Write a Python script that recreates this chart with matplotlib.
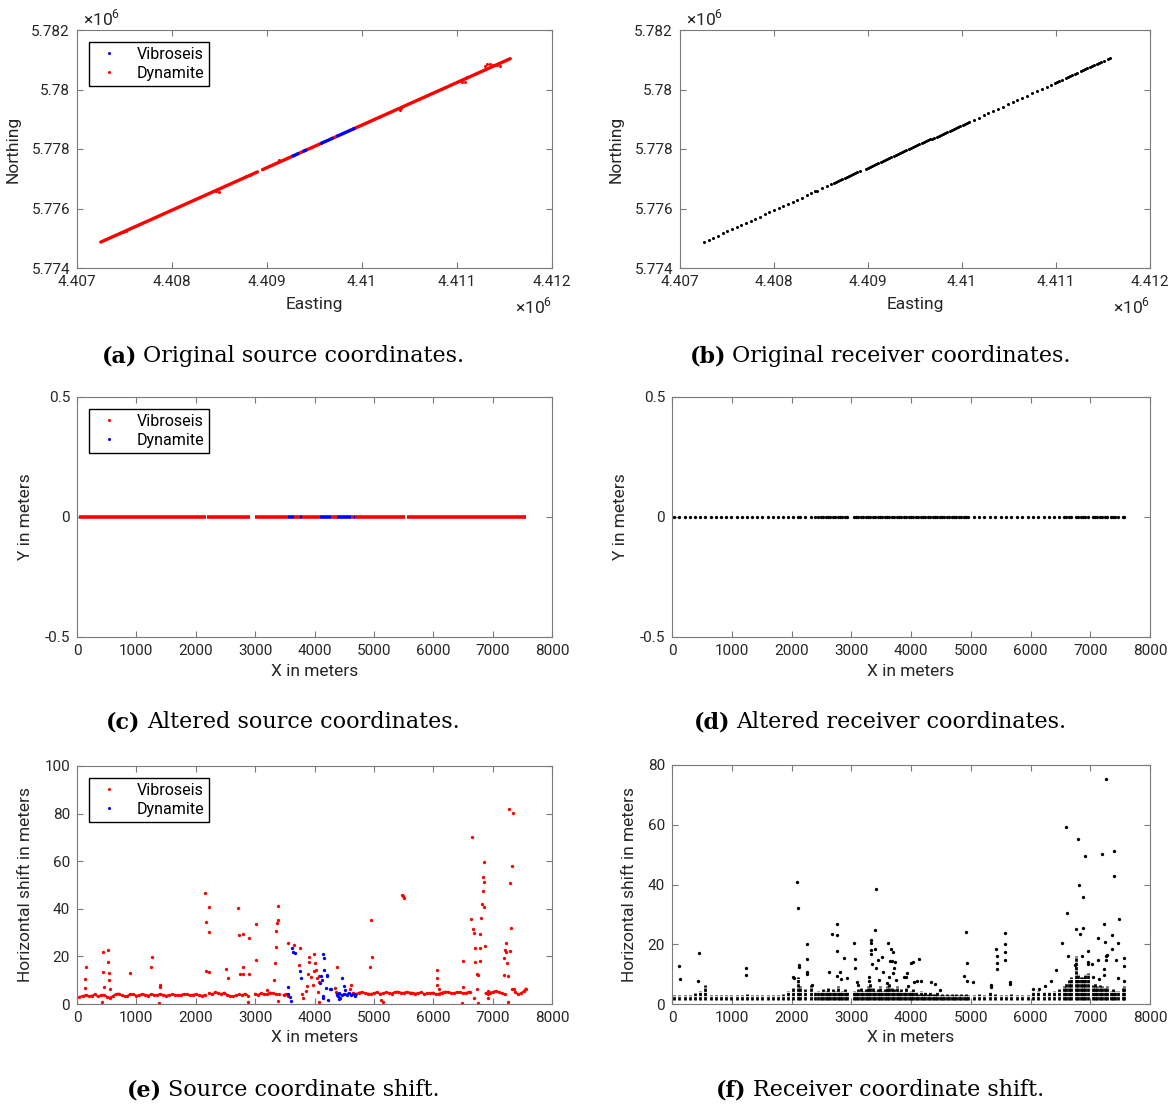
import matplotlib
matplotlib.use("Agg")
import matplotlib.pyplot as plt
from matplotlib.lines import Line2D
from matplotlib.ticker import FuncFormatter, MultipleLocator
import numpy as np

plt.rcParams['font.family'] = ['Roboto', 'DejaVu Sans']
plt.rcParams['mathtext.fontset'] = 'custom'
plt.rcParams['mathtext.rm'] = 'Roboto'

# ---------------- data ----------------
# line origin / direction used to go from profile x to easting/northing
E0, N0 = 4407232.0, 5774845.0
CE, CN = 0.5730, 0.8196

# altered source coordinates: runs of shots along y = 0 (x in m)
vib_runs = [(31, 2180), (2192, 2910), (3003, 3560), (3653, 3759), (3796, 4087),
            (4285, 4378), (4613, 4663), (4687, 5523), (5554, 7554)]
dyn_runs = [(3560, 3653), (3759, 3796), (4087, 4285), (4378, 4613), (4663, 4687)]

# original source points lying off the straight line (easting, northing)
src_off_e = [4407480, 4407520, 4408460, 4408480, 4408490, 4408780, 4408820,
             4409130, 4410400, 4410410, 4411050, 4411080, 4411100, 4411110,
             4411300, 4411320, 4411350, 4411380, 4411400, 4411420, 4411450]
src_off_n = [5775200, 5775240, 5776580, 5776650, 5776560, 5777080, 5777130,
             5777620, 5779310, 5779380, 5780260, 5780250, 5780380, 5780420,
             5780780, 5780870, 5780860, 5780840, 5780820, 5780830, 5780800]

# receiver stations along the profile (m)
rx = [40, 125, 210, 300, 385, 470, 560, 645, 730, 820, 905, 990, 1080, 1165,
      1250, 1340, 1425, 1510, 1600, 1685, 1770, 1860, 1945, 2030, 2110, 2140,
      2230, 2320, 2400,
      2450, 2490, 2530, 2570, 2610, 2650, 2690, 2730, 2770, 2810, 2850, 2890, 2930,
      3040, 3080, 3120, 3160, 3200, 3240, 3280, 3320, 3360, 3400, 3440, 3480,
      3520, 3560, 3600, 3640, 3680, 3720, 3760, 3800, 3840, 3880, 3920, 3960,
      4000, 4040, 4080, 4120, 4160, 4200, 4240, 4280, 4320, 4360, 4400, 4440,
      4480, 4520, 4560, 4600, 4640, 4680, 4720, 4760, 4800, 4840, 4880, 4920, 4960,
      5050, 5140, 5230, 5320, 5410, 5500, 5590, 5680, 5770, 5860, 5950, 6040,
      6130, 6220, 6310, 6400, 6480, 6560, 6600, 6640, 6680, 6760, 6800, 6840,
      6880, 6920, 6960, 7040, 7080, 7120, 7160, 7200, 7240, 7280, 7340, 7380,
      7420, 7460, 7540, 7570]

# receiver shift: top of the dense column of shifts at each station
rx_top = [3.0, 3.0, 3.0, 3.0, 3.8, 4.2, 6.3, 3.0, 3.0, 3.0, 3.0, 3.0, 3.0, 3.0,
          3.2, 3.0, 3.0, 3.0, 3.0, 3.0, 3.0, 3.2, 4.5, 5.5, 9.0, 6.0,
          5.0, 6.5, 4.0,
          4.5, 4.0, 5.0, 4.5, 5.5, 4.0, 5.0, 4.5, 6.0, 4.0, 4.5, 5.0, 4.0,
          4.5, 4.0, 5.0, 5.5, 4.5, 5.0, 6.0, 7.0, 5.5, 4.5, 5.0, 6.0,
          4.5, 5.0, 6.0, 7.0, 5.5, 5.0, 6.0, 4.5, 5.0, 4.0, 5.5, 4.0,
          4.5, 5.0, 4.0, 3.5, 4.5, 3.5, 4.0, 3.5, 4.0, 3.5, 3.5, 4.0,
          3.0, 3.5, 3.0, 3.5, 3.0, 3.5, 3.0, 3.2, 3.0, 3.5, 3.0, 3.5, 3.0,
          3.0, 3.5, 3.0, 4.0, 3.5, 3.0, 3.0, 3.5, 3.0, 3.0, 3.0, 4.0,
          4.5, 4.0, 4.0, 4.5, 5.0, 6.0, 7.0, 8.0, 9.0, 16.0, 10.0, 9.0,
          9.0, 10.0, 10.4, 6.5, 7.0, 6.0, 6.5, 6.0, 5.5, 6.0, 4.5, 5.0,
          4.5, 4.5, 5.5, 6.0]
rx_low = 1.2

# receiver shift outliers (x m, shift m)
rs_x = [123, 142, 449, 431, 1231, 1237, 2098, 2111, 2123, 2129, 2031, 2037, 2258,
        2252, 2252, 2252, 2351, 2634, 2677, 2757, 2757, 2757, 2769, 2806, 2831,
        2874, 2929, 3046, 3058, 3058, 3089, 3108, 3323, 3329, 3323, 3329, 3348,
        3292, 3292, 3403, 3422, 3403, 3415, 3446, 3458, 3508, 3532, 3612, 3643,
        3662, 3674, 3705, 3729, 3723, 3692, 3631, 3742, 3600, 3877, 3914, 3938,
        3951, 3994, 4031, 4043, 4098, 4135, 4160, 4338, 4406, 4492, 4880, 4923,
        4935, 4942, 5046, 5428, 5434, 5434, 5434, 5335, 5335, 5569, 5569, 5569,
        5569, 5649, 5649, 6049, 6142, 6240, 6338, 6431, 6535, 6603, 6591, 6634,
        6745, 6769, 6794, 6812, 6831, 6868, 6880, 6880, 6905, 6960, 6966, 6966,
        7028, 7052, 7126, 7138, 7145, 7200, 7225, 7249, 7237, 7268, 7262, 7280,
        7268, 7231, 7360, 7372, 7403, 7403, 7428, 7458, 7477, 7458, 7569, 7569,
        7569]
rs_y = [12.8, 8.5, 17.2, 7.8, 11.9, 9.6, 40.8, 32.2, 13.2, 12.4, 9.2, 8.7, 20.1,
        15.2, 10.8, 10.0, 6.4, 10.8, 23.5, 23.0, 26.7, 17.6, 9.5, 10.8, 8.5,
        15.3, 8.6, 20.3, 14.9, 12.0, 7.2, 6.4, 21.4, 20.5, 18.1, 16.8, 13.5,
        8.9, 7.6, 24.8, 38.6, 18.4, 11.9, 14.6, 8.0, 15.7, 10.7, 20.5, 14.5,
        18.4, 14.4, 17.3, 14.1, 12.1, 10.4, 9.2, 8.1, 7.0, 9.2, 8.9, 10.4,
        5.9, 13.7, 14.0, 7.4, 7.8, 15.2, 7.7, 7.2, 6.8, 4.6, 9.4, 24.2,
        13.8, 7.6, 7.4, 18.4, 16.0, 13.8, 11.7, 6.5, 5.7, 23.6, 20.2, 17.4,
        14.7, 7.4, 6.8, 5.0, 5.0, 5.9, 7.8, 11.5, 20.3, 30.4, 59.1, 16.0,
        13.1, 25.1, 55.2, 39.7, 23.4, 16.0, 35.8, 25.6, 49.7, 17.6, 14.1, 13.5,
        13.5, 9.2, 22.1, 14.8, 8.5, 50.1, 26.7, 20.9, 11.7, 14.7, 16.2, 16.4,
        75.2, 9.8, 18.5, 23.0, 51.3, 43.0, 14.7, 20.3, 28.4, 8.7, 15.4, 12.7,
        7.8]

# source shift: baseline runs (x m, shift m)
vib_base = [
    ([40, 100, 150, 200, 250, 300, 350, 400, 450, 500, 550, 600, 650, 700, 750,
      800, 850, 900, 950, 1000, 1050, 1100, 1150, 1200, 1250, 1300, 1350, 1400,
      1450, 1500, 1550, 1600, 1650, 1700, 1750, 1800, 1850, 1900, 1950, 2000,
      2050, 2100, 2150],
     [3.0, 3.4, 3.8, 3.3, 3.5, 4.0, 3.2, 3.6, 3.9, 3.1, 2.6, 3.3, 4.1, 4.4, 3.6,
      3.2, 3.4, 4.2, 4.0, 3.5, 3.7, 4.2, 3.9, 3.5, 4.1, 3.8, 3.6, 4.3, 3.8, 3.5,
      3.7, 4.0, 3.9, 3.6, 3.8, 4.2, 4.0, 3.6, 3.9, 4.1, 3.7, 3.4, 3.8]),
    ([2230, 2280, 2330, 2380, 2430, 2480, 2530, 2580, 2630, 2680, 2730, 2780,
      2830, 2880],
     [4.5, 4.0, 5.0, 4.6, 4.2, 4.8, 3.8, 3.4, 3.2, 3.6, 4.0, 3.7, 4.3, 3.5]),
    ([3000, 3050, 3100, 3150, 3200, 3250, 3300, 3350, 3400],
     [4.3, 3.8, 4.5, 4.0, 4.2, 4.8, 4.6, 4.1, 4.0]),
    ([3480, 3520, 3560], [3.8, 4.2, 3.5]),
    ([4650, 4700, 4750, 4800, 4850, 4900, 4950, 5000, 5050, 5100, 5150, 5200,
      5250, 5300, 5350, 5400, 5450, 5500, 5550, 5600, 5650, 5700, 5750, 5800,
      5850, 5900, 5950, 6000, 6050, 6100, 6150, 6200, 6250, 6300, 6350, 6400,
      6450, 6500, 6550, 6600, 6620],
     [4.5, 4.2, 4.8, 5.0, 4.6, 4.4, 4.2, 4.6, 4.9, 4.3, 4.5, 4.9, 4.7, 4.4, 5.0,
      5.2, 4.8, 4.6, 5.1, 4.8, 4.7, 4.4, 4.6, 4.9, 4.2, 4.5, 4.5, 4.8, 4.0, 4.4,
      4.8, 5.2, 5.0, 4.7, 4.6, 5.0, 4.9, 4.6, 4.7, 5.1, 5.0]),
    ([6880, 6920, 6950, 7000, 7050, 7100, 7150, 7200],
     [4.5, 4.0, 4.8, 5.0, 5.5, 5.0, 4.5, 4.0]),
    ([7380, 7430, 7480, 7530, 7560], [5.0, 4.0, 4.5, 5.5, 6.5]),
]
dyn_base = [([4380, 4420, 4460, 4500, 4540, 4580, 4620, 4660, 4690],
             [3.8, 4.5, 3.6, 4.2, 3.9, 4.6, 3.8, 4.1, 3.5])]

vib_x = [142, 142, 155, 415, 433, 446, 452, 514, 526, 532, 539, 557, 898, 1257,
         1251, 1393, 1406, 1381, 2155, 2180, 2223, 2217, 2173, 2229, 2514, 2539,
         2718, 2731, 2793, 2737, 2793, 2799, 2904, 2892, 2879, 3009, 3022, 3207,
         3319, 3337, 3350, 3356, 3375, 3381, 3393, 3393, 3560, 3653, 3759, 3734,
         3796, 3808, 3858, 3876, 3907, 3907, 3889, 3938, 3969, 3988, 4006, 3994,
         4025, 4043, 4056, 4068, 4080, 4074, 4372, 4341, 4359, 4619, 4644, 4600,
         4954, 4972, 4941, 5127, 5152, 5480, 5492, 5511, 6068, 6056, 6068, 6099,
         6502, 6508, 6483, 6656, 6638, 6669, 6687, 6700, 6706, 6731, 6755, 6737,
         6687, 6755, 6793, 6805, 6817, 6836, 6842, 6848, 6848, 6861, 6867, 6780,
         6780, 6923, 6917, 7195, 7207, 7226, 7226, 7189, 7257, 7238, 7257, 7282,
         7350, 7331, 7288, 7313, 7300, 7325, 7356]
vib_y = [6.8, 10.7, 15.5, 0.8, 21.9, 13.6, 7.1, 22.8, 17.8, 13.2, 9.9, 6.3, 13.0, 19.9,
         15.5, 7.1, 8.1, 0.6, 46.5, 34.5, 40.7, 30.1, 13.8, 13.6, 14.8, 11.1,
         40.3, 28.8, 29.5, 12.8, 12.4, 15.7, 27.7, 12.8, 0.7, 33.6, 18.5, 6.0,
         10.0, 17.1, 23.8, 30.5, 34.0, 35.4, 41.1, 1.4, 25.6, 24.8, 23.5, 16.2,
         4.0, 2.4, 5.6, 7.7, 19.9, 17.7, 12.5, 11.4, 7.9, 21.2, 17.1, 13.8,
         14.2, 11.0, 4.9, 9.3, 0.7, 11.7, 15.5, 6.8, 5.2, 7.8, 4.5, 6.3,
         35.4, 19.6, 15.7, 1.7, 0.8, 45.7, 45.4, 44.6, 14.3, 10.9, 7.9, 6.5,
         18.1, 7.1, 0.6, 70.1, 35.7, 31.5, 29.7, 23.7, 17.5, 12.5, 12.0, 6.5,
         2.5, 0.6, 29.4, 36.2, 42.2, 47.4, 53.5, 51.3, 59.5, 40.7, 24.2, 18.0,
         23.5, 5.3, 2.4, 19.4, 22.7, 25.8, 22.0, 12.1, 11.7, 17.3, 0.7, 81.8,
         80.1, 57.9, 51.0, 31.8, 22.1, 6.3, 6.3]

dyn_x = [3560, 3560, 3591, 3604, 3622, 3641, 3666, 3759, 3765, 4093, 4105, 4118,
         4149, 4161, 4167, 4149, 4136, 4192, 4204, 4217, 4229, 4260, 4285, 4378,
         4396, 4415, 4433, 4471, 4495, 4508, 4675]
dyn_y = [7.1, 4.2, 2.8, 1.3, 23.5, 21.7, 21.6, 13.9, 11.0, 8.8, 11.8, 10.2,
         21.2, 19.2, 14.3, 2.4, 3.5, 6.8, 11.7, 12.1, 1.8, 6.4, 6.3, 4.2,
         3.2, 2.1, 2.5, 10.9, 7.7, 6.0, 3.8]

# ---------------- figure ----------------
W, H = 1176, 1106
fig = plt.figure(figsize=(W / 100, H / 100), dpi=100)
TXT = '#262626'
EDGE = '#7a7a7a'
RED, BLUE = '#ff0000', '#0000ff'


def make_ax(l, t, r, b):
    ax = fig.add_axes([l / W, 1 - b / H, (r - l) / W, (b - t) / H])
    for s in ax.spines.values():
        s.set_color(EDGE)
        s.set_linewidth(0.8)
    ax.tick_params(direction='in', length=4, width=0.8, color=EDGE, top=True,
                   right=True, labelsize=11, labelcolor=TXT, pad=5)
    return ax


def fmt(v, p):
    return '%g' % v


def legend(ax, items):
    h = [Line2D([], [], ls='none', marker='o', ms=2.2, mew=0, color=c, label=l)
         for l, c in items]
    ax.legend(handles=h, loc='upper left', fancybox=False, framealpha=1,
              edgecolor='k', fontsize=11.5, borderaxespad=0.75, handlelength=1.9,
              handletextpad=0.8, labelspacing=0.25, borderpad=0.3)


def caption(cx, cy, tag, txt):
    kw = dict(fontsize=16, family='DejaVu Serif', color='k', va='center')
    t1 = fig.text(0, cy / H, tag, fontweight='bold', **kw)
    t2 = fig.text(0, cy / H, txt, **kw)
    r = fig.canvas.get_renderer()
    w1 = t1.get_window_extent(r).width
    w2 = t2.get_window_extent(r).width
    gap = 6
    x0 = cx - (w1 + gap + w2) / 2
    t1.set_position((x0 / W, 1 - cy / H))
    t2.set_position(((x0 + w1 + gap) / W, 1 - cy / H))


def mega(ax):
    f = FuncFormatter(lambda v, p: '%g' % (v / 1e6))
    ax.xaxis.set_major_formatter(f)
    ax.yaxis.set_major_formatter(f)
    ax.set_xlim(4407000, 4412000)
    ax.set_ylim(5774000, 5782000)
    ax.xaxis.set_major_locator(MultipleLocator(1000))
    ax.yaxis.set_major_locator(MultipleLocator(2000))
    ax.text(0.012, 1.006, r'$\times10^{6}$', transform=ax.transAxes, fontsize=12.5,
            color=TXT, ha='left', va='bottom')
    ax.text(1.0, -0.115, r'$\times10^{6}$', transform=ax.transAxes, fontsize=12.5,
            color=TXT, ha='right', va='top')
    ax.set_xlabel('Easting', fontsize=12.5, color=TXT, labelpad=6)
    ax.set_ylabel('Northing', fontsize=12.5, color=TXT, labelpad=8)


# (a) original source coordinates
ax = make_ax(77, 30, 552, 268)
for a, b in vib_runs:
    ax.plot([E0 + a * CE, E0 + b * CE], [N0 + a * CN, N0 + b * CN], color=RED,
            lw=2.4, solid_capstyle='round')
ax.plot(src_off_e, src_off_n, ls='none', marker='o', ms=2.2, mew=0, color=RED)
for a, b in dyn_runs:
    ax.plot([E0 + a * CE, E0 + b * CE], [N0 + a * CN, N0 + b * CN], color=BLUE,
            lw=2.4, solid_capstyle='round')
mega(ax)
legend(ax, [('Vibroseis', BLUE), ('Dynamite', RED)])

# (b) original receiver coordinates
ax = make_ax(680, 30, 1150, 268)
rxa = np.array(rx, dtype=float)
ax.plot(E0 + rxa * CE, N0 + rxa * CN, ls='none', marker='o', ms=2.2, mew=0,
        color='k')
mega(ax)


def flat(ax):
    ax.set_xlim(0, 8000)
    ax.set_ylim(-0.5, 0.5)
    ax.xaxis.set_major_locator(MultipleLocator(1000))
    ax.yaxis.set_major_locator(MultipleLocator(0.5))
    ax.xaxis.set_major_formatter(FuncFormatter(fmt))
    ax.yaxis.set_major_formatter(FuncFormatter(fmt))
    ax.set_xlabel('X in meters', fontsize=12.5, color=TXT, labelpad=4)
    ax.set_ylabel('Y in meters', fontsize=12.5, color=TXT, labelpad=8)


# (c) altered source coordinates
ax = make_ax(77, 397, 552, 637)
for a, b in vib_runs:
    ax.plot([a, b], [0, 0], color=RED, lw=2.6, solid_capstyle='butt')
for a, b in dyn_runs:
    ax.plot([a, b], [0, 0], color=BLUE, lw=2.6, solid_capstyle='butt')
flat(ax)
legend(ax, [('Vibroseis', RED), ('Dynamite', BLUE)])

# (d) altered receiver coordinates
ax = make_ax(672, 397, 1150, 637)
ax.plot(rx, np.zeros(len(rx)), ls='none', marker='o', ms=2.4, mew=0, color='k')
flat(ax)


def shift(ax, top):
    ax.set_xlim(0, 8000)
    ax.set_ylim(0, top)
    ax.xaxis.set_major_locator(MultipleLocator(1000))
    ax.yaxis.set_major_locator(MultipleLocator(20))
    ax.xaxis.set_major_formatter(FuncFormatter(fmt))
    ax.yaxis.set_major_formatter(FuncFormatter(fmt))
    ax.set_xlabel('X in meters', fontsize=12.5, color=TXT, labelpad=4)
    ax.set_ylabel('Horizontal shift in meters', fontsize=12.5, color=TXT,
                  labelpad=8)


# (e) source coordinate shift
ax = make_ax(77, 766, 552, 1004)
for xs, ys in vib_base:
    ax.plot(xs, ys, color=RED, lw=0, marker='o', ms=2.4, mew=0)
    ax.plot(xs, ys, color=RED, lw=1.4)
ax.plot(vib_x, vib_y, ls='none', marker='o', ms=2.4, mew=0, color=RED)
for xs, ys in dyn_base:
    ax.plot(xs, ys, color=BLUE, lw=1.4, marker='o', ms=2.4, mew=0)
ax.plot(dyn_x, dyn_y, ls='none', marker='o', ms=2.4, mew=0, color=BLUE)
shift(ax, 100)
legend(ax, [('Vibroseis', RED), ('Dynamite', BLUE)])

# (f) receiver coordinate shift
ax = make_ax(672, 765, 1150, 1004)
ax.vlines(rx, rx_low, rx_top, color='k', lw=2.0, linestyles=(0, (1.2, 0.35)))
ax.plot(rs_x, rs_y, ls='none', marker='o', ms=2.4, mew=0, color='k')
shift(ax, 80)

caption(283, 356, '(a)', 'Original source coordinates.')
caption(880, 356, '(b)', 'Original receiver coordinates.')
caption(283, 722, '(c)', 'Altered source coordinates.')
caption(880, 722, '(d)', 'Altered receiver coordinates.')
caption(283, 1090, '(e)', 'Source coordinate shift.')
caption(880, 1090, '(f)', 'Receiver coordinate shift.')

fig.savefig('out.png', dpi=100)
